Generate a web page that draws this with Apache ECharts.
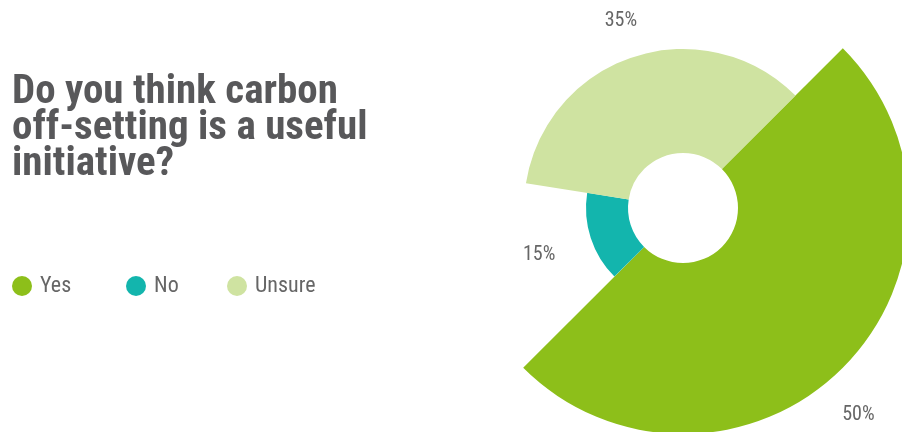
<!DOCTYPE html>
<html>
<head>
<meta charset="utf-8">
<script src="https://cdn.jsdelivr.net/npm/echarts@6/dist/echarts.min.js"></script>
<style>
html,body{margin:0;padding:0;background:#fff;}
#chart{width:902px;height:432px;}
</style>
</head>
<body>
<div id="chart"></div>
<script>
const titleText = 'Do you think carbon\noff-setting is a useful\ninitiative?';
const categories = ['Yes', 'No', 'Unsure'];
const values = [50, 15, 35];

const palette = ['#8dbf1a', '#13b5ad', '#cfe3a1'];
const outerRadii = [226, 97, 159];
const labelLines = [[67, -53], [54, -21], [38, -20]];
const legendLeft = [12, 126, 227];
const FONT = "'Roboto Condensed', 'Open Sans Condensed', 'DejaVu Sans Condensed', sans-serif";

const chart = echarts.init(document.getElementById('chart'));

const series = categories.map((name, i) => ({
  type: 'pie',
  center: [683, 208],
  radius: [55, outerRadii[i]],
  startAngle: 45,
  clockwise: true,
  avoidLabelOverlap: false,
  silent: true,
  animation: false,
  label: {
    show: true,
    position: 'outside',
    formatter: '{d}%',
    fontFamily: FONT,
    fontSize: 20,
    color: '#666666',
    distanceToLabelLine: 5
  },
  labelLine: { show: false, length: labelLines[i][0], length2: labelLines[i][1] },
  data: categories.map((n, j) => ({
    name: n,
    value: values[j],
    itemStyle: { color: j === i ? palette[j] : 'rgba(0,0,0,0)' },
    label: { show: j === i },
    labelLine: { show: false }
  }))
}));

const legends = categories.map((name, i) => ({
  left: legendLeft[i],
  top: 275,
  padding: 0,
  icon: 'circle',
  itemWidth: 26,
  itemHeight: 20,
  selectedMode: false,
  data: [{ name: name, itemStyle: { color: palette[i] } }],
  textStyle: {
    fontFamily: FONT,
    fontSize: 22,
    color: '#666666'
  }
}));

chart.setOption({
  backgroundColor: '#ffffff',
  animation: false,
  title: {
    text: titleText,
    left: 12,
    top: 75,
    padding: 0,
    textStyle: {
      fontFamily: FONT,
      fontWeight: 'bold',
      fontSize: 41,
      lineHeight: 36,
      color: '#58585a'
    }
  },
  legend: legends,
  series: series
});
</script>
</body>
</html>
